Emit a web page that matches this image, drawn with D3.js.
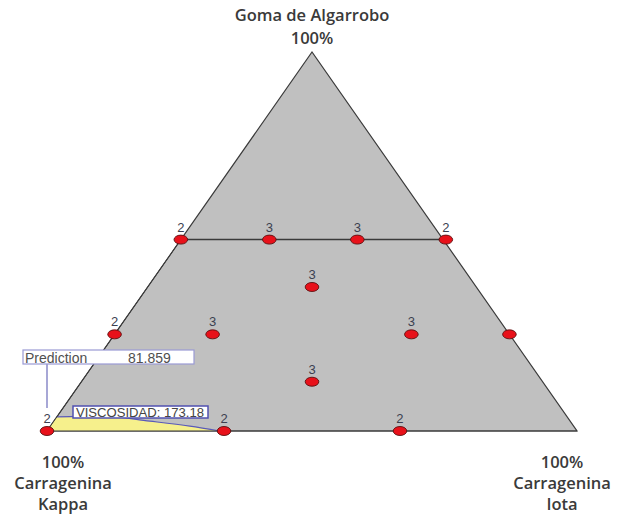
<!DOCTYPE html>
<html><head><meta charset="utf-8">
<script src="https://cdn.jsdelivr.net/npm/d3@7"></script>
<style>html,body{margin:0;padding:0;background:#fff;}svg{display:block;}</style>
</head><body>
<svg id="c" width="617" height="516"></svg>
<script>
// Mixture design points: fraction of Goma de Algarrobo (top) and Carragenina Iota (right); Kappa = rest
const gomaFrac = [0.505, 0.505, 0.505, 0.505, 0.38, 0.255, 0.255, 0.255, 0.255, 0.13, 0, 0, 0];
const iotaFrac = [0, 0.167, 0.333, 0.5, 0.31, 0, 0.185, 0.56, 0.745, 0.435, 0, 0.334, 0.666];
const replicateLabels = ["2", "3", "3", "2", "3", "2", "3", "3", "", "3", "2", "2", "2"];
// Upper constraint on Goma
const gomaMax = 0.505;
// Contour of the highlighted region (goma, iota)
const contourGoma = [0.037, 0.040, 0.026, 0.013, 0];
const contourIota = [0, 0.08, 0.181, 0.263, 0.326];
const topLabel = ["Goma de Algarrobo", "100%"];
const leftLabel = ["100%", "Carragenina", "Kappa"];
const rightLabel = ["100%", "Carragenina", "Iota"];
const predictionText = ["Prediction", "81.859"];
const viscText = "VISCOSIDAD: 173.18";

const svg = d3.select("#c");
const xS = d3.scaleLinear().domain([0, 1]).range([47, 577]);   // iota + goma/2
const yS = d3.scaleLinear().domain([0, 1]).range([431, 52]);   // goma
const px = (g, i) => xS(i + g / 2);
const py = g => yS(g);

// triangle
const triPts = [[px(0, 0), py(0)], [px(0, 1), py(0)], [px(1, 0), py(1)]];
svg.append("path")
  .attr("d", d3.line()(triPts) + "Z")
  .attr("fill", "#c0c0c0").attr("stroke", "#3a3a3a").attr("stroke-width", 1.2);

// yellow region
const contour = contourGoma.map((g, k) => [px(g, contourIota[k]), py(g)]);
svg.append("path")
  .attr("d", d3.line()([[px(0, 0), py(0)]].concat(contour)) + "Z")
  .attr("fill", "#f6f08c").attr("stroke", "none");
svg.append("path")
  .attr("d", d3.line().curve(d3.curveMonotoneX)(contour))
  .attr("fill", "none").attr("stroke", "#5a5ab8").attr("stroke-width", 1.2);
svg.append("line")
  .attr("x1", px(0, 0)).attr("y1", py(0)).attr("x2", px(0, 1)).attr("y2", py(0))
  .attr("stroke", "#3a3a3a").attr("stroke-width", 1.2);
svg.append("line")
  .attr("x1", px(0, 0)).attr("y1", py(0)).attr("x2", px(gomaMax, 0)).attr("y2", py(gomaMax))
  .attr("stroke", "#3a3a3a").attr("stroke-width", 1);

// constraint line
svg.append("line")
  .attr("x1", px(gomaMax, 0)).attr("y1", py(gomaMax))
  .attr("x2", px(gomaMax, 1 - gomaMax)).attr("y2", py(gomaMax))
  .attr("stroke", "#3a3a3a").attr("stroke-width", 1.5);

// Prediction box
const boxFont = "Liberation Sans, Arial, sans-serif";
const pred = svg.append("g");
pred.append("line").attr("x1", 47).attr("y1", 364).attr("x2", 47).attr("y2", 408)
  .attr("stroke", "#8a8ac8").attr("stroke-width", 1.5);
pred.append("rect").attr("x", 23).attr("y", 350).attr("width", 171).attr("height", 14)
  .attr("fill", "#fff").attr("stroke", "#9a9ad4").attr("stroke-width", 1.2);
pred.append("text").attr("x", 25).attr("y", 363).text(predictionText[0])
  .attr("font-family", boxFont).attr("font-size", 14).attr("fill", "#505050");
pred.append("text").attr("x", 128).attr("y", 363).text(predictionText[1])
  .attr("font-family", boxFont).attr("font-size", 14).attr("fill", "#505050");

// Viscosidad box
svg.append("rect").attr("x", 73).attr("y", 406).attr("width", 135).attr("height", 12)
  .attr("fill", "#fff").attr("stroke", "#5050b0").attr("stroke-width", 1.5);
svg.append("text").attr("x", 76).attr("y", 417).text(viscText)
  .attr("font-family", boxFont).attr("font-size", 13).attr("fill", "#444")
  .attr("textLength", 128).attr("lengthAdjust", "spacingAndGlyphs");

// points
const pts = gomaFrac.map((g, k) => ({g, i: iotaFrac[k], lab: replicateLabels[k]}));
svg.selectAll("ellipse.pt").data(pts).join("ellipse").attr("class", "pt")
  .attr("cx", d => px(d.g, d.i)).attr("cy", d => py(d.g))
  .attr("rx", 6.8).attr("ry", 4.5)
  .attr("fill", "#e8111a").attr("stroke", "#5a1010").attr("stroke-width", 0.9);
svg.selectAll("text.lab").data(pts).join("text").attr("class", "lab")
  .attr("x", d => px(d.g, d.i)).attr("y", d => py(d.g) - 8)
  .attr("text-anchor", "middle")
  .attr("font-family", boxFont).attr("font-size", 13)
  .attr("fill", "#3c4050").text(d => d.lab);

// vertex labels
const lblFont = "Open Sans, sans-serif";
function block(lines, cx, ys) {
  lines.forEach((t, k) => svg.append("text").attr("x", cx).attr("y", ys[k])
    .attr("text-anchor", "middle").attr("font-family", lblFont).attr("font-size", 16.5)
    .attr("font-weight", 600).attr("fill", "#3a3a3a").text(t));
}
block(topLabel, 312, [21, 44]);
block(leftLabel, 63, [468, 489, 510]);
block(rightLabel, 562, [468, 489, 510]);
</script>
</body></html>
